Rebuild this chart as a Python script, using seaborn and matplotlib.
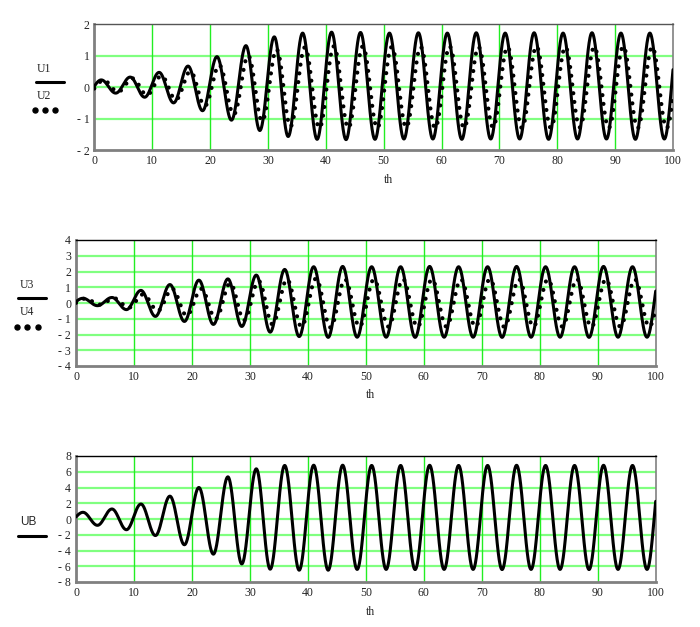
import numpy as np
import pandas as pd
import matplotlib
matplotlib.use("Agg")
import matplotlib.pyplot as plt
from matplotlib.lines import Line2D
import seaborn as sns

# Posiciones de maximos y minimos (th)
peak_th = [1.2, 6.2, 11.2, 16.2, 21.2, 26.2, 31.1, 36.0, 41.0, 46.0, 51.0,
           56.0, 61.0, 66.0, 71.0, 76.0, 81.0, 86.0, 91.0, 96.0, 101.0]
trough_th = [-1.3, 3.7, 8.7, 13.7, 18.7, 23.7, 28.6, 33.5, 38.5, 43.5, 48.5,
             53.5, 58.5, 63.5, 68.5, 73.5, 78.5, 83.5, 88.5, 93.5, 98.5]
lag_dots = 0.4  # retraso de la curva punteada

# U1 / U2
u1_peaks = [0.23, 0.32, 0.47, 0.67, 0.97, 1.32, 1.6, 1.72, 1.75, 1.74, 1.72,
            1.73, 1.72, 1.73, 1.72, 1.73, 1.72, 1.73, 1.72, 1.72, 1.72]
u1_troughs = [-0.2, -0.19, -0.32, -0.5, -0.75, -1.05, -1.38, -1.57, -1.66, -1.67, -1.66,
              -1.65, -1.65, -1.66, -1.65, -1.65, -1.66, -1.65, -1.65, -1.66, -1.65]
u2_peaks = [0.22, 0.28, 0.36, 0.5, 0.7, 1.0, 1.2, 1.27, 1.3, 1.3, 1.28,
            1.28, 1.3, 1.28, 1.28, 1.3, 1.28, 1.28, 1.3, 1.28, 1.28]
u2_troughs = [-0.15, -0.15, -0.25, -0.4, -0.6, -0.87, -1.08, -1.25, -1.3, -1.3, -1.3,
              -1.28, -1.3, -1.3, -1.28, -1.3, -1.3, -1.28, -1.3, -1.3, -1.3]

# U3 / U4
u3_peaks = [0.3, 0.35, 0.8, 1.17, 1.45, 1.53, 1.77, 2.13, 2.3, 2.32, 2.3,
            2.3, 2.32, 2.3, 2.3, 2.32, 2.3, 2.3, 2.32, 2.3, 2.3]
u3_troughs = [-0.15, -0.17, -0.42, -0.85, -1.17, -1.36, -1.49, -1.85, -2.13, -2.18, -2.17,
              -2.17, -2.18, -2.17, -2.17, -2.18, -2.17, -2.17, -2.18, -2.17, -2.17]
u4_peaks = [0.28, 0.3, 0.55, 0.9, 0.9, 1.25, 1.4, 1.5, 1.55, 1.5, 1.5,
            1.52, 1.5, 1.5, 1.52, 1.5, 1.5, 1.52, 1.5, 1.5, 1.5]
u4_troughs = [-0.1, -0.1, -0.3, -0.5, -0.8, -1.0, -1.1, -1.35, -1.5, -1.55, -1.5,
              -1.5, -1.52, -1.5, -1.5, -1.52, -1.5, -1.5, -1.52, -1.5, -1.5]

# UB
ub_peaks = [0.85, 1.27, 1.9, 2.9, 4.0, 5.35, 6.37, 6.8, 6.83, 6.83, 6.8,
            6.8, 6.82, 6.8, 6.8, 6.82, 6.8, 6.8, 6.82, 6.8, 6.8]
ub_troughs = [-0.4, -0.8, -1.36, -2.1, -3.27, -4.46, -5.7, -6.37, -6.5, -6.5, -6.4,
              -6.4, -6.42, -6.4, -6.4, -6.42, -6.4, -6.4, -6.42, -6.4, -6.4]

x_ticks = [0, 10, 20, 30, 40, 50, 60, 70, 80, 90, 100]
y_ticks_1 = [-2, -1, 0, 1, 2]
y_ticks_2 = [-4, -3, -2, -1, 0, 1, 2, 3, 4]
y_ticks_3 = [-8, -6, -4, -2, 0, 2, 4, 6, 8]


def curva(peaks, troughs, shift=0.0):
    # une los extremos leidos con medios cosenos
    ext_th = []
    ext_v = []
    for i in range(len(peak_th)):
        ext_th += [trough_th[i] + shift, peak_th[i] + shift]
        ext_v += [troughs[i], peaks[i]]
    ext_th = np.array(ext_th)
    ext_v = np.array(ext_v)
    th = np.linspace(0, 100, 2001)
    seg = np.clip(np.searchsorted(ext_th, th, side='right') - 1, 0, len(ext_th) - 2)
    t0, t1 = ext_th[seg], ext_th[seg + 1]
    v0, v1 = ext_v[seg], ext_v[seg + 1]
    f = (1 - np.cos(np.pi * (th - t0) / (t1 - t0))) / 2
    return pd.DataFrame({'th': th, 'U': v0 + (v1 - v0) * f})


sns.set_style("white")
serif = ['Liberation Serif', 'DejaVu Serif']
plt.rcParams['font.family'] = serif

fig = plt.figure(figsize=(7, 6.27), dpi=100)
W, H = 700, 627


def caja(x0, y0, x1, y1):
    return [x0 / W, 1 - y1 / H, (x1 - x0) / W, (y1 - y0) / H]


def menos(v):
    return ('- %d' % -v) if v < 0 else '%d' % v


def preparar(ax, yt, top_color):
    ax.set_xlim(0, 100)
    ax.set_ylim(yt[0], yt[-1])
    ax.set_xticks(x_ticks)
    ax.set_xticklabels([str(v) for v in x_ticks], fontsize=8.5)
    ax.set_yticks(yt)
    ax.set_yticklabels([menos(v) for v in yt], fontsize=8.5)
    ax.tick_params(length=0, pad=3.5, colors='#222222')
    for v in yt[1:-1]:
        ax.axhline(v, color='#80ff80', lw=1.6, zorder=0.5)
    for v in x_ticks[1:-1]:
        ax.axvline(v, color='#22ee22', lw=1.0, zorder=0.5)
    ax.spines['left'].set_color('#808080')
    ax.spines['left'].set_linewidth(2.0)
    ax.spines['bottom'].set_color('#808080')
    ax.spines['bottom'].set_linewidth(2.0)
    ax.spines['top'].set_color(top_color)
    ax.spines['top'].set_linewidth(1.0)
    ax.spines['right'].set_color('#808080')
    ax.spines['right'].set_linewidth(1.2)
    ax.set_xlabel('')
    ax.set_ylabel('')


def punteada(df, ax):
    sns.lineplot(data=df, x='th', y='U', ax=ax, color='black', lw=3.0,
                 linestyle=(0, (0.01, 2.1)), dash_capstyle='round', zorder=3)


def solida(df, ax):
    sns.lineplot(data=df, x='th', y='U', ax=ax, color='black', lw=2.2, zorder=4)


def leyenda(x_txt, y_txt, x0, x1, y_line, texto, fam=serif):
    fig.text(x_txt / W, 1 - y_txt / H, texto, ha='center', va='center',
             fontsize=8.5, family=fam)
    fig.add_artist(Line2D([x0 / W, x1 / W], [1 - y_line / H] * 2, color='black', lw=2.2))


def puntos(xs, y):
    fig.add_artist(Line2D([x / W for x in xs], [1 - y / H] * len(xs), color='black',
                          ls='none', marker='o', markersize=3.6))


# Panel 1
ax1 = fig.add_axes(caja(94.3, 24.3, 673, 150))
punteada(curva(u2_peaks, u2_troughs, lag_dots), ax1)
solida(curva(u1_peaks, u1_troughs), ax1)
preparar(ax1, y_ticks_1, '#555555')
fig.text(388 / W, 1 - 180 / H, 'th', ha='center', va='center', fontsize=8.5)
leyenda(44, 69, 36, 64, 82, 'U1')
fig.text(44 / W, 1 - 96 / H, 'U2', ha='center', va='center', fontsize=8.5)
puntos([35, 45, 55], 110)

# Panel 2
ax2 = fig.add_axes(caja(76, 240, 655.7, 366))
punteada(curva(u4_peaks, u4_troughs, lag_dots), ax2)
solida(curva(u3_peaks, u3_troughs), ax2)
preparar(ax2, y_ticks_2, 'black')
fig.text(370 / W, 1 - 395 / H, 'th', ha='center', va='center', fontsize=8.5)
leyenda(27, 285, 18, 46, 298.3, 'U3')
fig.text(27 / W, 1 - 311.7 / H, 'U4', ha='center', va='center', fontsize=8.5)
puntos([17, 27, 37.5], 327)

# Panel 3
ax3 = fig.add_axes(caja(76, 456, 655.7, 582))
solida(curva(ub_peaks, ub_troughs), ax3)
preparar(ax3, y_ticks_3, 'black')
fig.text(370 / W, 1 - 611.7 / H, 'th', ha='center', va='center', fontsize=8.5)
leyenda(28.3, 521.7, 18, 46, 535.7, 'UB', fam=['Liberation Sans', 'DejaVu Sans'])

fig.savefig('out.png', dpi=100)
